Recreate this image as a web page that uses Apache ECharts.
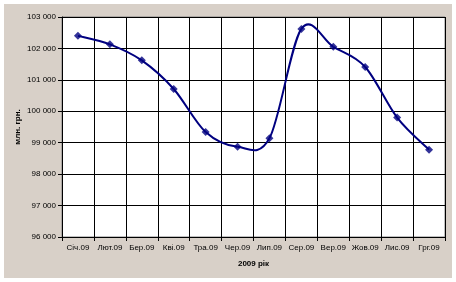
<!DOCTYPE html>
<html>
<head>
<meta charset="utf-8">
<script src="https://cdn.jsdelivr.net/npm/echarts@6/dist/echarts.min.js"></script>
<style>
html,body{margin:0;padding:0;background:#ffffff;}
#frame{position:absolute;left:4px;top:4px;width:448px;height:274px;background:#d8d0c8;}
#chart{position:absolute;left:0;top:0;width:456px;height:282px;}
</style>
</head>
<body>
<div id="frame"></div>
<div id="chart"></div>
<script>
const categories = ['Січ.09','Лют.09','Бер.09','Кві.09','Тра.09','Чер.09','Лип.09','Сер.09','Вер.09','Жов.09','Лис.09','Грг.09'];
const values = [102400, 102130, 101620, 100710, 99340, 98870, 99140, 102620, 102050, 101410, 99800, 98780];
const yTitle = 'млн. грн.';
const xTitle = '2009 рік';

const font = 'Liberation Sans, Arial, sans-serif';
const n = values.length;

// Smoothed segment (Excel-like Catmull-Rom, tension 1/6) drawn through the axis scales
function renderSegment(params, api) {
  const i = params.dataIndex;
  if (i >= n - 1) return null;
  const P = k => {
    const kk = Math.max(0, Math.min(n - 1, k));
    return api.coord([kk, values[kk]]);
  };
  const p0 = P(i - 1), p1 = P(i), p2 = P(i + 1), p3 = P(i + 2);
  const t = 1 / 6;
  return {
    type: 'bezierCurve',
    shape: {
      x1: p1[0], y1: p1[1],
      cpx1: p1[0] + (p2[0] - p0[0]) * t, cpy1: p1[1] + (p2[1] - p0[1]) * t,
      cpx2: p2[0] - (p3[0] - p1[0]) * t, cpy2: p2[1] - (p3[1] - p1[1]) * t,
      x2: p2[0], y2: p2[1]
    },
    style: {stroke: '#000080', lineWidth: 2, fill: null}
  };
}

const chart = echarts.init(document.getElementById('chart'), null, {renderer:'canvas'});
chart.setOption({
  backgroundColor: 'transparent',
  animation: false,
  grid: {left: 62, top: 17, right: 11, bottom: 45, show: true, backgroundColor: '#ffffff', borderColor: '#808080', borderWidth: 1},
  xAxis: {
    type: 'category',
    data: categories,
    boundaryGap: true,
    name: xTitle,
    nameLocation: 'middle',
    nameGap: 23,
    nameMoveOverlap: false,
    nameTextStyle: {fontFamily: font, fontSize: 8, fontWeight: 'bold', color: '#000'},
    axisLine: {lineStyle: {color: '#000', width: 1}},
    axisTick: {show: true, length: 4, lineStyle: {color: '#000'}},
    axisLabel: {fontFamily: font, fontSize: 8, color: '#000', margin: 7, interval: 0},
    splitLine: {show: true, lineStyle: {color: '#000', width: 1}}
  },
  yAxis: {
    type: 'value',
    min: 96000, max: 103000, interval: 1000,
    name: yTitle,
    nameLocation: 'middle',
    nameGap: 40,
    nameMoveOverlap: false,
    nameRotate: 90,
    nameTextStyle: {fontFamily: font, fontSize: 8, fontWeight: 'bold', color: '#000'},
    axisLine: {show: true, lineStyle: {color: '#000', width: 1}},
    axisTick: {show: true, length: 4, lineStyle: {color: '#000'}},
    axisLabel: {fontFamily: font, fontSize: 8, color: '#000', margin: 6,
      formatter: v => String(v).replace(/\B(?=(\d{3})+(?!\d))/g, ' ')},
    splitLine: {show: true, lineStyle: {color: '#000', width: 1}}
  },
  series: [{
    type: 'custom',
    data: values.map((v, i) => [i, v]),
    renderItem: renderSegment,
    clip: false,
    z: 2
  }, {
    type: 'scatter',
    data: values,
    symbol: 'diamond',
    symbolSize: 8,
    itemStyle: {color: '#000080'},
    z: 3
  }]
});
</script>
</body>
</html>
